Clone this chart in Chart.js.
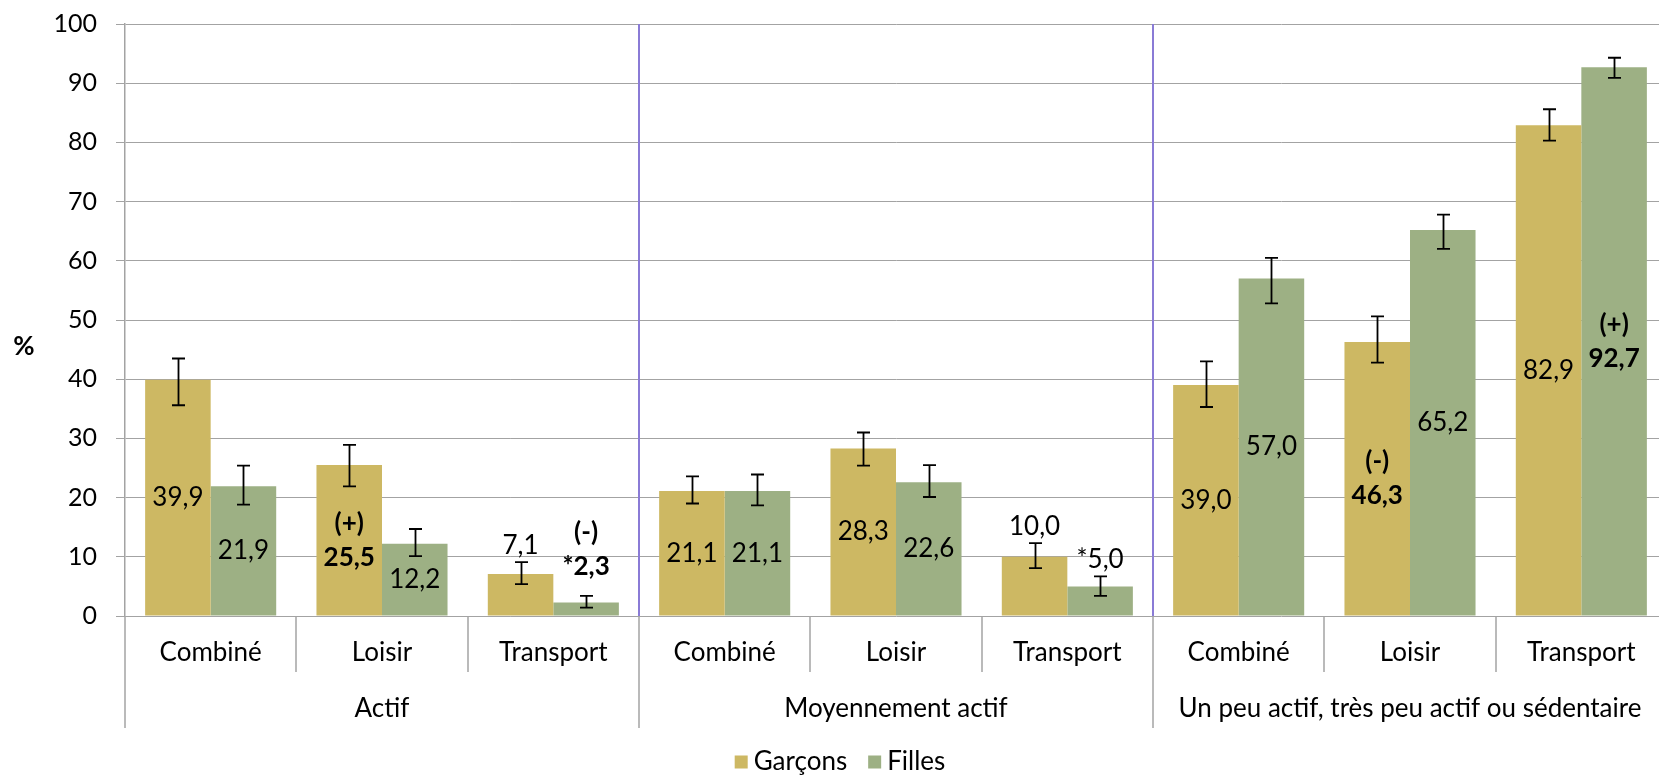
<!DOCTYPE html>
<html>
<head>
<meta charset="utf-8">
<script src="https://cdn.jsdelivr.net/npm/chart.js@4"></script>
<style>
  html, body { margin: 0; padding: 0; background: #fff; overflow: hidden; }
  #wrap { width: 1668px; height: 776px; }
</style>
</head>
<body>
<div id="wrap"><canvas id="c" width="1668" height="776"></canvas></div>
<script>
// ---- data ----
const categoryLabels = ['Combiné', 'Loisir', 'Transport', 'Combiné', 'Loisir', 'Transport', 'Combiné', 'Loisir', 'Transport'];
const groupLabels = ['Actif', 'Moyennement actif', 'Un peu actif, très peu actif ou sédentaire'];
const groupSize = 3;
const seriesNames = ['Garçons', 'Filles'];

const garcons = [39.9, 25.5, 7.1, 21.1, 28.3, 10.0, 39.0, 46.3, 82.9];
const filles  = [21.9, 12.2, 2.3, 21.1, 22.6, 5.0, 57.0, 65.2, 92.7];

const garconsLow  = [35.6, 21.9, 5.4, 19.0, 25.4, 8.1, 35.3, 42.8, 80.3];
const garconsHigh = [43.5, 28.9, 9.1, 23.6, 31.0, 12.3, 43.0, 50.6, 85.6];
const fillesLow   = [18.8, 10.1, 1.4, 18.7, 20.1, 3.4, 52.8, 62.0, 90.9];
const fillesHigh  = [25.4, 14.7, 3.4, 23.9, 25.5, 6.7, 60.5, 67.8, 94.3];

const garconsLabels = ['39,9', '(+)\n25,5', '7,1', '21,1', '28,3', '10,0', '39,0', '(-)\n46,3', '82,9'];
const fillesLabels  = ['21,9', '12,2', '(-)\n*2,3', '21,1', '22,6', '*5,0', '57,0', '65,2', '(+)\n92,7'];

const yTicks = [0, 10, 20, 30, 40, 50, 60, 70, 80, 90, 100];
const yTitle = '%';

// ---- style ----
const FONT = 'Lato';
const TICK_SIZE = 25;
const TEXT_SIZE = 26;
const GOLD = '#CDB863';
const GREEN = '#9DB084';
const GRID = '#a3a3a3';
const PURPLE = '#8a7bd6';
// which labels sit above their error bar instead of at mid-bar
const labelAbove = [
  { 2: 0, 5: 0 },          // Garçons: index -> extra lift (px)
  { 2: 12, 5: 0 }          // Filles
];
const errorLow = [garconsLow, fillesLow];
const errorHigh = [garconsHigh, fillesHigh];
const labelTexts = [garconsLabels, fillesLabels];

const decor = {
  id: 'decor',
  afterDatasetsDraw(chart) {
    const { ctx, chartArea: ca, scales: { y } } = chart;
    const n = chart.data.labels.length;
    const w = (ca.right - ca.left) / n;
    ctx.save();

    // purple group separators inside plot
    ctx.strokeStyle = PURPLE;
    ctx.lineWidth = 2;
    for (let g = 1; g < groupLabels.length; g++) {
      const px = Math.round(ca.left + g * groupSize * w);
      ctx.beginPath();
      ctx.moveTo(px, ca.top);
      ctx.lineTo(px, ca.bottom);
      ctx.stroke();
    }

    // error bars
    ctx.strokeStyle = '#000';
    ctx.lineWidth = 1.8;
    chart.data.datasets.forEach((ds, di) => {
      const meta = chart.getDatasetMeta(di);
      meta.data.forEach((bar, i) => {
        const x = Math.round(bar.x) + 0.5;
        const yl = y.getPixelForValue(errorLow[di][i]);
        const yh = y.getPixelForValue(errorHigh[di][i]);
        ctx.beginPath();
        ctx.moveTo(x, yh); ctx.lineTo(x, yl);
        ctx.moveTo(x - 6.5, yh); ctx.lineTo(x + 6.5, yh);
        ctx.moveTo(x - 6.5, yl); ctx.lineTo(x + 6.5, yl);
        ctx.stroke();
      });
    });

    // data labels
    ctx.fillStyle = '#000';
    ctx.textAlign = 'center';
    ctx.textBaseline = 'middle';
    const lh = 34;
    chart.data.datasets.forEach((ds, di) => {
      const meta = chart.getDatasetMeta(di);
      meta.data.forEach((bar, i) => {
        const txt = labelTexts[di][i];
        const lines = txt.split('\n');
        const bold = /\([+-]\)/.test(txt);
        ctx.font = (bold ? 'bold ' : '') + TEXT_SIZE + 'px ' + FONT;
        let cy;
        if (labelAbove[di][i] !== undefined) {
          const top = y.getPixelForValue(errorHigh[di][i]);
          const lastY = top - 17 - labelAbove[di][i];
          cy = lastY - (lines.length - 1) * lh / 2;
        } else {
          cy = (bar.y + bar.base) / 2;
        }
        lines.forEach((ln, k) => {
          ctx.fillText(ln, bar.x, cy + (k - (lines.length - 1) / 2) * lh);
        });
      });
    });
    ctx.restore();
  },
  afterDraw(chart) {
    const { ctx, chartArea: ca } = chart;
    const n = chart.data.labels.length;
    const w = (ca.right - ca.left) / n;
    ctx.save();
    // axis separators below plot
    ctx.strokeStyle = GRID;
    ctx.lineWidth = 1.5;
    for (let i = 0; i <= n; i++) {
      const px = Math.round(ca.left + i * w);
      const len = (i % groupSize === 0) ? 112 : 56;
      ctx.beginPath();
      ctx.moveTo(px, ca.bottom);
      ctx.lineTo(px, ca.bottom + len);
      ctx.stroke();
    }
    // category labels
    ctx.fillStyle = '#000';
    ctx.textAlign = 'center';
    ctx.textBaseline = 'middle';
    ctx.font = TEXT_SIZE + 'px ' + FONT;
    chart.data.labels.forEach((lab, i) => {
      ctx.fillText(lab, ca.left + (i + 0.5) * w, ca.bottom + 37);
    });
    // group labels
    groupLabels.forEach((lab, g) => {
      ctx.fillText(lab, ca.left + (g + 0.5) * groupSize * w, ca.bottom + 93);
    });
    // y title
    ctx.font = 'bold ' + TEXT_SIZE + 'px ' + FONT;
    ctx.fillText(yTitle, 24, ca.top + (ca.bottom - ca.top) * 0.545);

    // legend
    ctx.font = TEXT_SIZE + 'px ' + FONT;
    const box = 13, gapIn = 6, gapOut = 21;
    const items = chart.data.datasets.map(ds => ({ label: ds.label, color: ds.backgroundColor, tw: ctx.measureText(ds.label).width }));
    let total = 0;
    items.forEach((it, k) => { total += box + gapIn + it.tw + (k < items.length - 1 ? gapOut : 0); });
    let lx = chart.width / 2 + 6 - total / 2;
    const ly = ca.bottom + 146;
    ctx.textAlign = 'left';
    items.forEach(it => {
      ctx.fillStyle = it.color;
      ctx.fillRect(lx, ly - box / 2, box, box);
      ctx.fillStyle = '#000';
      ctx.fillText(it.label, lx + box + gapIn, ly);
      lx += box + gapIn + it.tw + gapOut;
    });
    ctx.restore();
  }
};

function build() {
  new Chart(document.getElementById('c'), {
    type: 'bar',
    data: {
      labels: categoryLabels,
      datasets: [
        { label: seriesNames[0], data: garcons, backgroundColor: GOLD, categoryPercentage: 0.765, barPercentage: 1.0 },
        { label: seriesNames[1], data: filles, backgroundColor: GREEN, categoryPercentage: 0.765, barPercentage: 1.0 }
      ]
    },
    options: {
      responsive: false,
      animation: false,
      devicePixelRatio: 1,
      layout: { padding: { top: 24, bottom: 160, left: 0, right: 1 } },
      plugins: { legend: { display: false }, tooltip: { enabled: false } },
      scales: {
        x: { display: false, offset: true },
        y: {
          min: yTicks[0], max: yTicks[yTicks.length - 1],
          afterBuildTicks(scale) { scale.ticks = yTicks.map(v => ({ value: v })); },
          ticks: { color: '#000', font: { family: FONT, size: TICK_SIZE }, padding: 19 },
          grid: { color: GRID, lineWidth: 1, tickLength: 9, drawTicks: true },
          border: { color: GRID, width: 1.5 },
          afterFit(scale) { scale.width = 125; scale.paddingTop = 0; scale.paddingBottom = 0; }
        }
      }
    },
    plugins: [decor]
  });
}
if (document.fonts && document.fonts.load) {
  Promise.all([document.fonts.load('24px Lato'), document.fonts.load('bold 24px Lato')]).then(build, build);
} else { build(); }
</script>
</body>
</html>
